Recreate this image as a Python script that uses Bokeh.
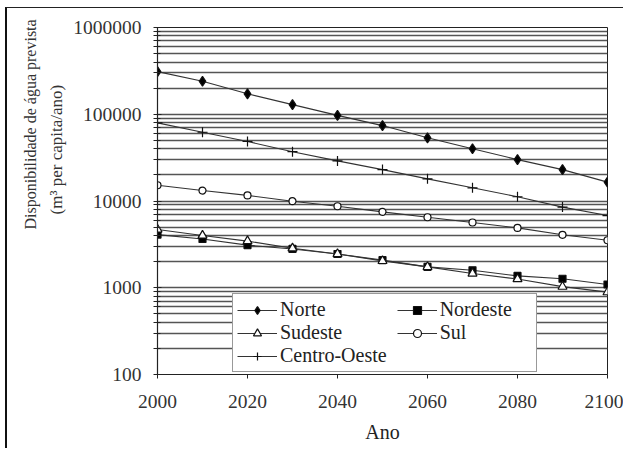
from bokeh.plotting import figure
from bokeh.models import (Range1d, FixedTicker, BasicTickFormatter, Legend, LegendItem, Title)
from bokeh.core.properties import value
from bokeh.embed import file_html
from bokeh.resources import INLINE

# ---- data ----
anos = [2000, 2010, 2020, 2030, 2040, 2050, 2060, 2070, 2080, 2090, 2100]
norte = [310000, 240000, 172000, 129000, 97000, 74000, 53500, 40000, 30000, 23000, 16500]
nordeste = [4100, 3650, 3100, 2800, 2450, 2080, 1740, 1590, 1370, 1270, 1090]
sudeste = [4700, 4000, 3450, 2850, 2450, 2040, 1740, 1460, 1260, 1030, 890]
sul = [15200, 13200, 11600, 9950, 8700, 7500, 6500, 5650, 4900, 4080, 3530]
centro_oeste = [79500, 62000, 48500, 37000, 29000, 23000, 18000, 14200, 11200, 8500, 6800]

x_ticks = [2000, 2020, 2040, 2060, 2080, 2100]
y_ticks = [100, 1000, 10000, 100000, 1000000]
y_minor = [m * d for d in [100, 1000, 10000, 100000] for m in range(2, 10)]

x_label = "Ano"
y_label_1 = "Disponibilidade de água prevista"
y_label_2 = "(m³ per capita/ano)"

FONT = "'Liberation Serif', serif"

p = figure(width=618, height=441, y_axis_type="log",
           x_range=Range1d(2000, 2100), y_range=Range1d(100, 1000000),
           output_backend="svg", toolbar_location=None,
           min_border_left=150, min_border_right=18,
           min_border_top=19, min_border_bottom=75)

# outer frame of the figure box (left and top edges visible)
p.styles = {"margin-left": "5px", "margin-top": "7px",
            "border-left": "2px solid #111", "border-top": "1.5px solid #222"}

p.outline_line_color = "#222"
p.outline_line_width = 1
p.background_fill_color = "white"

# grid
p.xgrid.grid_line_color = None
p.ygrid.grid_line_color = "#555555"
p.ygrid.grid_line_width = 1.3
p.ygrid.minor_grid_line_color = "#555555"
p.ygrid.minor_grid_line_width = 1.3

# axes
p.xaxis.ticker = FixedTicker(ticks=x_ticks)
p.yaxis.ticker = FixedTicker(ticks=y_ticks, minor_ticks=y_minor)
p.yaxis.formatter = BasicTickFormatter(use_scientific=False)
for ax in (p.xaxis[0], p.yaxis[0]):
    ax.axis_line_color = "#222"
    ax.axis_line_width = 1.2
    ax.major_tick_line_color = "#222"
    ax.minor_tick_line_color = "#222"
    ax.major_label_text_font = FONT
    ax.major_label_text_font_size = "19.5px"
    ax.major_label_text_color = "#333"
p.xaxis.major_tick_in = 0
p.xaxis.major_tick_out = 4
p.xaxis.minor_tick_out = 0
p.xaxis.minor_tick_in = 0
p.xaxis.major_label_standoff = 16
p.xaxis.axis_label = x_label
p.xaxis.axis_label_text_font = FONT
p.xaxis.axis_label_text_font_size = "20px"
p.xaxis.axis_label_text_font_style = "normal"
p.xaxis.axis_label_text_color = "#222"
p.xaxis.axis_label_standoff = 10
p.yaxis.major_tick_in = 4
p.yaxis.major_tick_out = 4
p.yaxis.minor_tick_in = 3
p.yaxis.minor_tick_out = 4
p.yaxis.major_label_standoff = 12

# two-line y label as side titles (line 2 nearer the axis)
for txt, off, so, fs in [(y_label_2, 160, 8, "17px"), (y_label_1, 145, 4, "16px")]:
    p.add_layout(Title(text=txt, align="left", offset=off, standoff=so,
                       vertical_align="middle", text_font=FONT,
                       text_font_size=fs, text_font_style="normal",
                       text_color="#333"), "left")

LC = "#333333"
series = [
    ("Norte", norte, "diamond", 10, "black"),
    ("Nordeste", nordeste, "square", 7, "black"),
    ("Sudeste", sudeste, "triangle", 9, "white"),
    ("Sul", sul, "circle", 7, "white"),
    ("Centro-Oeste", centro_oeste, "cross", 10, None),
]
# legend labels (trailing spaces widen the columns like the original box)
NB = "\u00a0"
legend_labels = {"Norte": "Norte", "Nordeste": "Nordeste" + NB * 4, "Sudeste": "Sudeste",
                 "Sul": "Sul", "Centro-Oeste": "Centro-Oeste  "}
items = {}
for name, vals, marker, size, fill in series:
    ln = p.line(anos, vals, line_color=LC, line_width=1.1)
    sc = p.scatter(anos, vals, marker=marker, size=size, line_color="#111",
                   fill_color=fill, line_width=1.2)
    items[name] = LegendItem(label=value(legend_labels[name]), renderers=[ln, sc])

# legend fills columns first: reorder so rows read Norte/Nordeste, Sudeste/Sul, Centro-Oeste
legend_order = ["Norte", "Sudeste", "Centro-Oeste", "Nordeste", "Sul"]
legend = Legend(items=[items[k] for k in legend_order], location=(75, 2), ncols=2,
                label_text_font=FONT, label_text_font_size="20px",
                label_text_color="#222", label_standoff=3,
                glyph_width=40, glyph_height=20, label_height=20,
                spacing=0, padding=4, margin=0,
                border_line_color="#333", border_line_width=1.5,
                background_fill_color="white", background_fill_alpha=1.0)
p.add_layout(legend, "center")

open("out.html", "w").write(file_html(p, INLINE))
